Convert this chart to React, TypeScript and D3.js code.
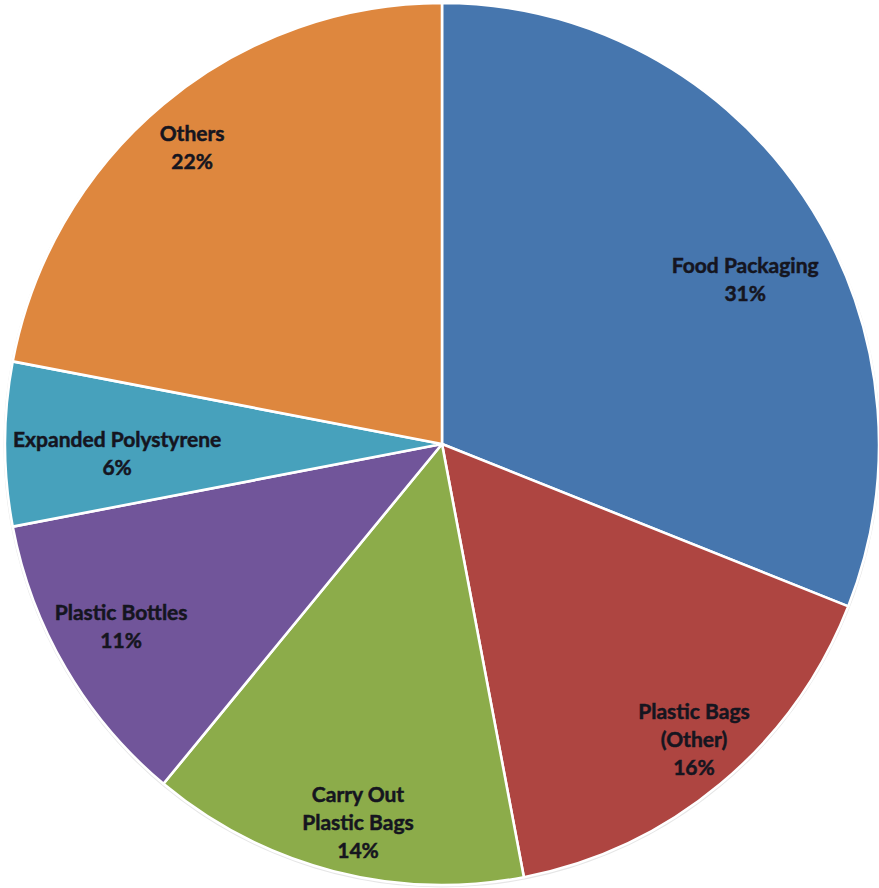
import React from "react";
import * as d3 from "d3";

const categories = [
  "Food Packaging",
  "Plastic Bags (Other)",
  "Carry Out Plastic Bags",
  "Plastic Bottles",
  "Expanded Polystyrene",
  "Others",
];
const values = [31, 16, 14, 11, 6, 22];
const labelLines = [
  ["Food Packaging"],
  ["Plastic Bags", "(Other)"],
  ["Carry Out", "Plastic Bags"],
  ["Plastic Bottles"],
  ["Expanded Polystyrene"],
  ["Others"],
];

// layout (not data): label block centres in polar form [angle deg clockwise from top, radius px]
const labelPolar: [number, number][] = [
  [61.5, 345],
  [139.5, 388],
  [192.5, 388],
  [240.4, 369],
  [268.3, 325],
  [319.9, 388],
];
const colors = ["#4676AE", "#AE4541", "#8CAC4A", "#71559A", "#47A1BC", "#DE873E"];

const W = 879;
const H = 888;
const CX = 442;
const CY = 444;
const RY = 441;
const RX = 437;
const FONT = 21;
const LINE = 28;

export default function App() {
  const pie = d3.pie<number>().sort(null).value((d) => d);
  const arcs = pie(values);
  const arc = d3.arc<d3.PieArcDatum<number>>().innerRadius(0).outerRadius(RY);

  return (
    <svg
      width={W}
      height={H}
      style={{ position: "absolute", left: 0, top: 0, background: "#fff" }}
    >
      <g transform={`translate(${CX},${CY}) scale(${RX / RY},1)`}>
        <ellipse cx={0} cy={1} rx={RY + 1.5} ry={RY + 1.5} fill="#e6e6e6" />
        {arcs.map((a, i) => (
          <path
            key={categories[i]}
            d={arc(a) || ""}
            fill={colors[i]}
            stroke="#ffffff"
            strokeWidth={2.6}
            strokeLinejoin="round"
          />
        ))}
      </g>
      {arcs.map((a, i) => {
        const [ang, rad] = labelPolar[i];
        const t = (ang * Math.PI) / 180;
        const x = CX + rad * Math.sin(t);
        const y = CY - rad * Math.cos(t);
        const lines = [...labelLines[i], `${values[i]}%`];
        const n = lines.length;
        const cap = FONT * 0.72;
        const firstBaseline = y - ((n - 1) * LINE + cap) / 2 + cap;
        return (
          <text
            key={"l" + i}
            x={x}
            textAnchor="middle"
            fontFamily="Lato, 'Open Sans', sans-serif"
            fontWeight={700}
            fontSize={FONT}
            fill="#15151f"
            stroke="#15151f"
            strokeWidth={0.5}
          >
            {lines.map((s, j) => (
              <tspan key={j} x={x} y={firstBaseline + j * LINE}>
                {s}
              </tspan>
            ))}
          </text>
        );
      })}
    </svg>
  );
}
